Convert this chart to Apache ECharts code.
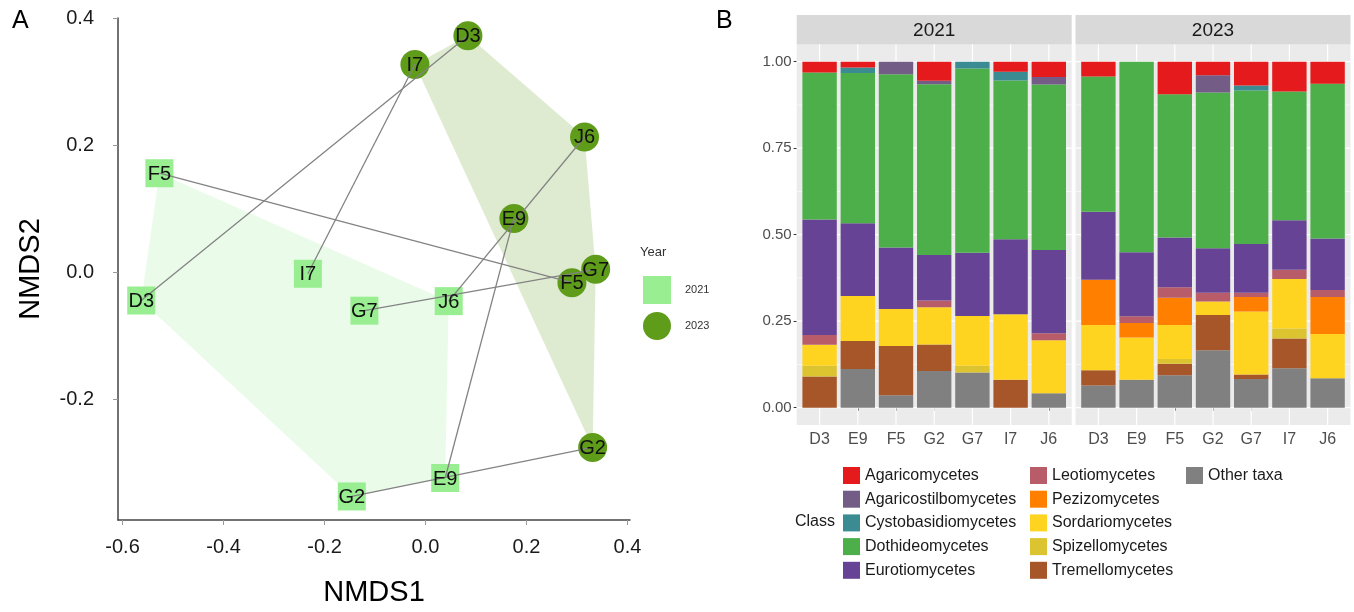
<!DOCTYPE html>
<html>
<head>
<meta charset="utf-8">
<script src="https://cdn.jsdelivr.net/npm/echarts@6/dist/echarts.min.js"></script>
<style>
  html, body { margin: 0; padding: 0; background: #ffffff; }
  #chart { width: 1354px; height: 612px; }
</style>
</head>
<body>
<div id="chart"></div>
<script>
// ---- Panel A: NMDS ordination of sites in two sampling years ----
const sites = ['D3', 'E9', 'F5', 'G2', 'G7', 'I7', 'J6'];
const nmds1_2021 = [-0.563, 0.039, -0.527, -0.146, -0.121, -0.233, 0.046];
const nmds2_2021 = [-0.044, -0.323, 0.156, -0.352, -0.060, -0.002, -0.045];
const nmds1_2023 = [0.084, 0.175, 0.290, 0.331, 0.337, -0.021, 0.315];
const nmds2_2023 = [0.372, 0.085, -0.016, -0.275, 0.005, 0.327, 0.213];
const nmds1Ticks = [-0.6, -0.4, -0.2, 0, 0.2, 0.4];
const nmds2Ticks = [-0.2, 0, 0.2, 0.4];
const years = ['2021', '2023'];

// ---- Panel B: relative abundance of fungal classes ----
// each array: 2021 sites (D3..J6) followed by 2023 sites (D3..J6)
const agaricomycetes       = [0.031, 0.017, 0,     0.055, 0,     0.029, 0.044,  0.043, 0,     0.094, 0.039, 0.069, 0.086, 0.064];
const agaricostilbomycetes = [0,     0,     0.036, 0.010, 0,     0,     0.022,  0,     0,     0,     0.050, 0,     0,     0];
const cystobasidiomycetes  = [0,     0.016, 0,     0,     0.020, 0.025, 0,      0,     0,     0,     0,     0.014, 0,     0];
const dothideomycetes      = [0.425, 0.434, 0.501, 0.494, 0.532, 0.459, 0.478,  0.391, 0.551, 0.414, 0.450, 0.444, 0.372, 0.447];
const eurotiomycetes       = [0.334, 0.210, 0.178, 0.131, 0.183, 0.217, 0.241,  0.196, 0.185, 0.144, 0.129, 0.141, 0.143, 0.149];
const leotiomycetes        = [0.028, 0,     0,     0.020, 0,     0,     0.020,  0,     0.019, 0.030, 0.025, 0.012, 0.027, 0.020];
const pezizomycetes        = [0,     0,     0,     0,     0,     0,     0,      0.131, 0.042, 0.079, 0,     0.042, 0,     0.107];
const sordariomycetes      = [0.061, 0.130, 0.107, 0.107, 0.144, 0.189, 0.153,  0.131, 0.122, 0.098, 0.039, 0.182, 0.143, 0.128];
const spizellomycetes      = [0.031, 0,     0,     0,     0.019, 0,     0,      0,     0,     0.014, 0,     0,     0.029, 0];
const tremellomycetes      = [0.090, 0.081, 0.142, 0.077, 0,     0.081, 0,      0.044, 0,     0.033, 0.102, 0.013, 0.086, 0];
const otherTaxa            = [0,     0.112, 0.036, 0.106, 0.102, 0,     0.042,  0.064, 0.081, 0.094, 0.166, 0.083, 0.114, 0.085];
const abundanceTicks = [0, 0.25, 0.5, 0.75, 1];
const abundanceMinorTicks = [0.125, 0.375, 0.625, 0.875];

const classNames = ['Agaricomycetes', 'Agaricostilbomycetes', 'Cystobasidiomycetes', 'Dothideomycetes',
  'Eurotiomycetes', 'Leotiomycetes', 'Pezizomycetes', 'Sordariomycetes', 'Spizellomycetes',
  'Tremellomycetes', 'Other taxa'];
const classValues = [agaricomycetes, agaricostilbomycetes, cystobasidiomycetes, dothideomycetes,
  eurotiomycetes, leotiomycetes, pezizomycetes, sordariomycetes, spizellomycetes,
  tremellomycetes, otherTaxa];
const classColors = ['#E41A1C', '#735D87', '#3A8C92', '#4DAF4A', '#674395', '#B85C6A',
  '#FF7F00', '#FED421', '#DCC431', '#A65628', '#808080'];

const col2021 = '#98EE90';
const col2023 = '#5E9C1A';
const hullFill2021 = 'rgba(152,238,144,0.2)';
const hullFill2023 = 'rgba(94,155,26,0.2)';
const FONT = "'Liberation Sans', Arial, Helvetica, sans-serif";

function pairs(xs, ys) { return xs.map((x, i) => [x, ys[i]]); }

// monotone-chain convex hull
function convexHull(pts) {
  const p = pts.slice().sort((a, b) => a[0] - b[0] || a[1] - b[1]);
  const cross = (o, a, b) => (a[0] - o[0]) * (b[1] - o[1]) - (a[1] - o[1]) * (b[0] - o[0]);
  const lower = [], upper = [];
  for (const q of p) {
    while (lower.length >= 2 && cross(lower[lower.length - 2], lower[lower.length - 1], q) <= 0) lower.pop();
    lower.push(q);
  }
  for (let i = p.length - 1; i >= 0; i--) {
    const q = p[i];
    while (upper.length >= 2 && cross(upper[upper.length - 2], upper[upper.length - 1], q) <= 0) upper.pop();
    upper.push(q);
  }
  upper.pop(); lower.pop();
  return lower.concat(upper);
}

const pts2021 = pairs(nmds1_2021, nmds2_2021);
const pts2023 = pairs(nmds1_2023, nmds2_2023);
const hulls = [convexHull(pts2021), convexHull(pts2023)];
const hullFills = [hullFill2021, hullFill2023];
const links = sites.map((s, i) => [nmds1_2021[i], nmds2_2021[i], nmds1_2023[i], nmds2_2023[i]]);

const series = [];

// convex hulls of each year
hulls.forEach((hull, h) => {
  series.push({
    type: 'custom', coordinateSystem: 'cartesian2d', xAxisIndex: 0, yAxisIndex: 0,
    silent: true, z: 1,
    data: [hull[0]],
    renderItem: function (params, api) {
      return {
        type: 'polygon',
        shape: { points: hull.map(p => api.coord(p)) },
        style: { fill: hullFills[h], stroke: null }
      };
    }
  });
});

// site points
series.push({
  type: 'scatter', name: '2021', xAxisIndex: 0, yAxisIndex: 0, z: 2,
  symbol: 'rect', symbolSize: 28, itemStyle: { color: col2021, opacity: 1 },
  data: pts2021, silent: true
});
series.push({
  type: 'scatter', name: '2023', xAxisIndex: 0, yAxisIndex: 0, z: 2,
  symbol: 'circle', symbolSize: 29, itemStyle: { color: col2023, opacity: 1 },
  data: pts2023, silent: true
});

// segments joining a site's two years
series.push({
  type: 'custom', coordinateSystem: 'cartesian2d', xAxisIndex: 0, yAxisIndex: 0,
  silent: true, z: 3, data: links,
  renderItem: function (params, api) {
    const a = api.coord([api.value(0), api.value(1)]);
    const b = api.coord([api.value(2), api.value(3)]);
    return {
      type: 'line',
      shape: { x1: a[0], y1: a[1], x2: b[0], y2: b[1] },
      style: { stroke: '#838383', lineWidth: 1.3 }
    };
  }
});

// site labels
[pts2021, pts2023].forEach(pts => {
  series.push({
    type: 'custom', coordinateSystem: 'cartesian2d', xAxisIndex: 0, yAxisIndex: 0,
    silent: true, z: 5, data: pts,
    renderItem: function (params, api) {
      const c = api.coord([api.value(0), api.value(1)]);
      return {
        type: 'text', x: c[0], y: c[1] + 1,
        style: {
          text: sites[params.dataIndex], fill: '#111', fontSize: 20,
          fontFamily: FONT, align: 'center', verticalAlign: 'middle'
        }
      };
    }
  });
});

// panel grid lines (behind the bars)
[1, 2].forEach(g => {
  const hLines = abundanceTicks.map(v => [0, v, 1]).concat(abundanceMinorTicks.map(v => [0, v, 0]));
  series.push({
    type: 'custom', coordinateSystem: 'cartesian2d', xAxisIndex: g, yAxisIndex: g,
    silent: true, z: 1, data: hLines,
    renderItem: function (params, api) {
      const cs = params.coordSys;
      const pad = api.size([1, 0])[0] * 0.1;
      const y = api.coord([0, api.value(1)])[1];
      return {
        type: 'line',
        shape: { x1: cs.x - pad, y1: y, x2: cs.x + cs.width + pad, y2: y },
        style: { stroke: '#ffffff', lineWidth: api.value(2) ? 1.2 : 0.6 }
      };
    }
  });
  series.push({
    type: 'custom', coordinateSystem: 'cartesian2d', xAxisIndex: g, yAxisIndex: g,
    silent: true, z: 1, data: sites.map((s, i) => [i, 0]),
    renderItem: function (params, api) {
      const cs = params.coordSys;
      const x = api.coord([api.value(0), 0])[0];
      return {
        type: 'line',
        shape: { x1: x, y1: cs.y, x2: x, y2: cs.y + cs.height },
        style: { stroke: '#ffffff', lineWidth: 1.2 }
      };
    }
  });
});

// stacked bars: bottom of the stack is the last class
for (let c = classNames.length - 1; c >= 0; c--) {
  years.forEach((yr, y) => {
    series.push({
      type: 'bar', name: classNames[c], xAxisIndex: 1 + y, yAxisIndex: 1 + y,
      stack: 'year' + yr, barCategoryGap: '10%', z: 2, silent: true,
      itemStyle: { color: classColors[c] },
      data: classValues[c].slice(y * 7, y * 7 + 7)
    });
  });
}

const barXAxis = g => ({
  type: 'category', gridIndex: g, data: sites,
  axisLine: { show: false },
  axisTick: { show: true, alignWithLabel: true, length: 3, lineStyle: { color: '#333', width: 1 } },
  axisLabel: { fontSize: 16, color: '#4d4d4d', margin: 7, fontFamily: FONT },
  splitLine: { show: false }
});
const barYAxis = (g, labels) => ({
  type: 'value', gridIndex: g, min: -0.05, max: 1.05, offset: 3.8,
  axisLine: { show: false },
  axisTick: { show: labels, customValues: abundanceTicks, length: 3, lineStyle: { color: '#333', width: 1 } },
  axisLabel: {
    show: labels, customValues: abundanceTicks, formatter: v => Number(v).toFixed(2),
    fontSize: 15, color: '#4d4d4d', margin: 5, fontFamily: FONT
  },
  splitLine: { show: false }
});

const stripY = 15, stripH = 29.4, panelTop = 44.4, panelH = 380.6, panelW = 275;
const panelLefts = [796.7, 1075.5];
const graphics = [];
panelLefts.forEach((x, i) => {
  graphics.push({ type: 'rect', z: 0, silent: true, shape: { x: x, y: panelTop, width: panelW, height: panelH }, style: { fill: '#EBEBEB' } });
  graphics.push({ type: 'rect', z: 0, silent: true, shape: { x: x, y: stripY, width: panelW, height: stripH }, style: { fill: '#D9D9D9' } });
  graphics.push({
    type: 'text', z: 1, silent: true, x: x + panelW / 2, y: stripY + stripH / 2 + 1,
    style: { text: years[i], fontSize: 19, fill: '#1a1a1a', fontFamily: FONT, align: 'center', verticalAlign: 'middle' }
  });
});

const legendText = { fontSize: 16, color: '#1a1a1a', fontFamily: FONT };
const classLegend = (left, names) => ({
  orient: 'vertical', left: left, top: 467, padding: 0,
  itemWidth: 17, itemHeight: 17, itemGap: 6.7, icon: 'rect',
  selectedMode: false, textStyle: legendText, data: names
});

const option = {
  animation: false,
  backgroundColor: '#ffffff',
  textStyle: { fontFamily: FONT },
  title: [
    { text: 'A', left: 12, top: 9, padding: 0, textStyle: { fontSize: 25, fontWeight: 'normal', color: '#000', fontFamily: FONT } },
    { text: 'B', left: 716, top: 9, padding: 0, textStyle: { fontSize: 25, fontWeight: 'normal', color: '#000', fontFamily: FONT } },
    { text: 'Year', left: 640, top: 246, padding: 0, textStyle: { fontSize: 13, fontWeight: 'normal', color: '#333', fontFamily: FONT } },
    { text: 'Class', left: 795, top: 514, padding: 0, textStyle: { fontSize: 16, fontWeight: 'normal', color: '#1a1a1a', fontFamily: FONT } }
  ],
  legend: [
    {
      orient: 'vertical', left: 643, top: 276, padding: 0,
      itemWidth: 28, itemHeight: 28, itemGap: 8, selectedMode: false,
      textStyle: { fontSize: 11, color: '#333', fontFamily: FONT, padding: [0, 0, 0, 9] },
      data: [{ name: '2021', icon: 'rect' }, { name: '2023', icon: 'circle' }]
    },
    classLegend(843, classNames.slice(0, 5)),
    classLegend(1030, classNames.slice(5, 10)),
    classLegend(1186, classNames.slice(10))
  ],
  grid: [
    { left: 118, top: 18, width: 512, height: 507 },
    { left: 800.5, top: 44.4, width: 267.4, height: 380.6 },
    { left: 1079.3, top: 44.4, width: 267.4, height: 380.6 }
  ],
  xAxis: [
    {
      type: 'value', gridIndex: 0, min: -0.609, max: 0.405,
      name: 'NMDS1', nameLocation: 'middle', nameGap: 58,
      nameTextStyle: { fontSize: 29, color: '#000', fontFamily: FONT },
      axisLine: { show: true, onZero: false, lineStyle: { color: '#444', width: 1.5 } },
      axisTick: { show: true, customValues: nmds1Ticks, length: 5, lineStyle: { color: '#999', width: 1 } },
      axisLabel: { customValues: nmds1Ticks, formatter: v => Number(v).toFixed(1), fontSize: 20, color: '#1a1a1a', margin: 17, fontFamily: FONT },
      splitLine: { show: false }
    },
    barXAxis(1),
    barXAxis(2)
  ],
  yAxis: [
    {
      type: 'value', gridIndex: 0, min: -0.389, max: 0.4,
      name: 'NMDS2', nameLocation: 'middle', nameRotate: 90, nameGap: 73,
      nameTextStyle: { fontSize: 29, color: '#000', fontFamily: FONT },
      axisLine: { show: true, onZero: false, lineStyle: { color: '#444', width: 1.5 } },
      axisTick: { show: true, customValues: nmds2Ticks, length: 5, lineStyle: { color: '#999', width: 1 } },
      axisLabel: { customValues: nmds2Ticks, formatter: v => Number(v).toFixed(1), fontSize: 20, color: '#1a1a1a', margin: 24, fontFamily: FONT },
      splitLine: { show: false }
    },
    barYAxis(1, true),
    barYAxis(2, false)
  ],
  graphic: graphics,
  series: series
};

const chart = echarts.init(document.getElementById('chart'), null, { renderer: 'canvas', width: 1354, height: 612 });
chart.setOption(option);
</script>
</body>
</html>
